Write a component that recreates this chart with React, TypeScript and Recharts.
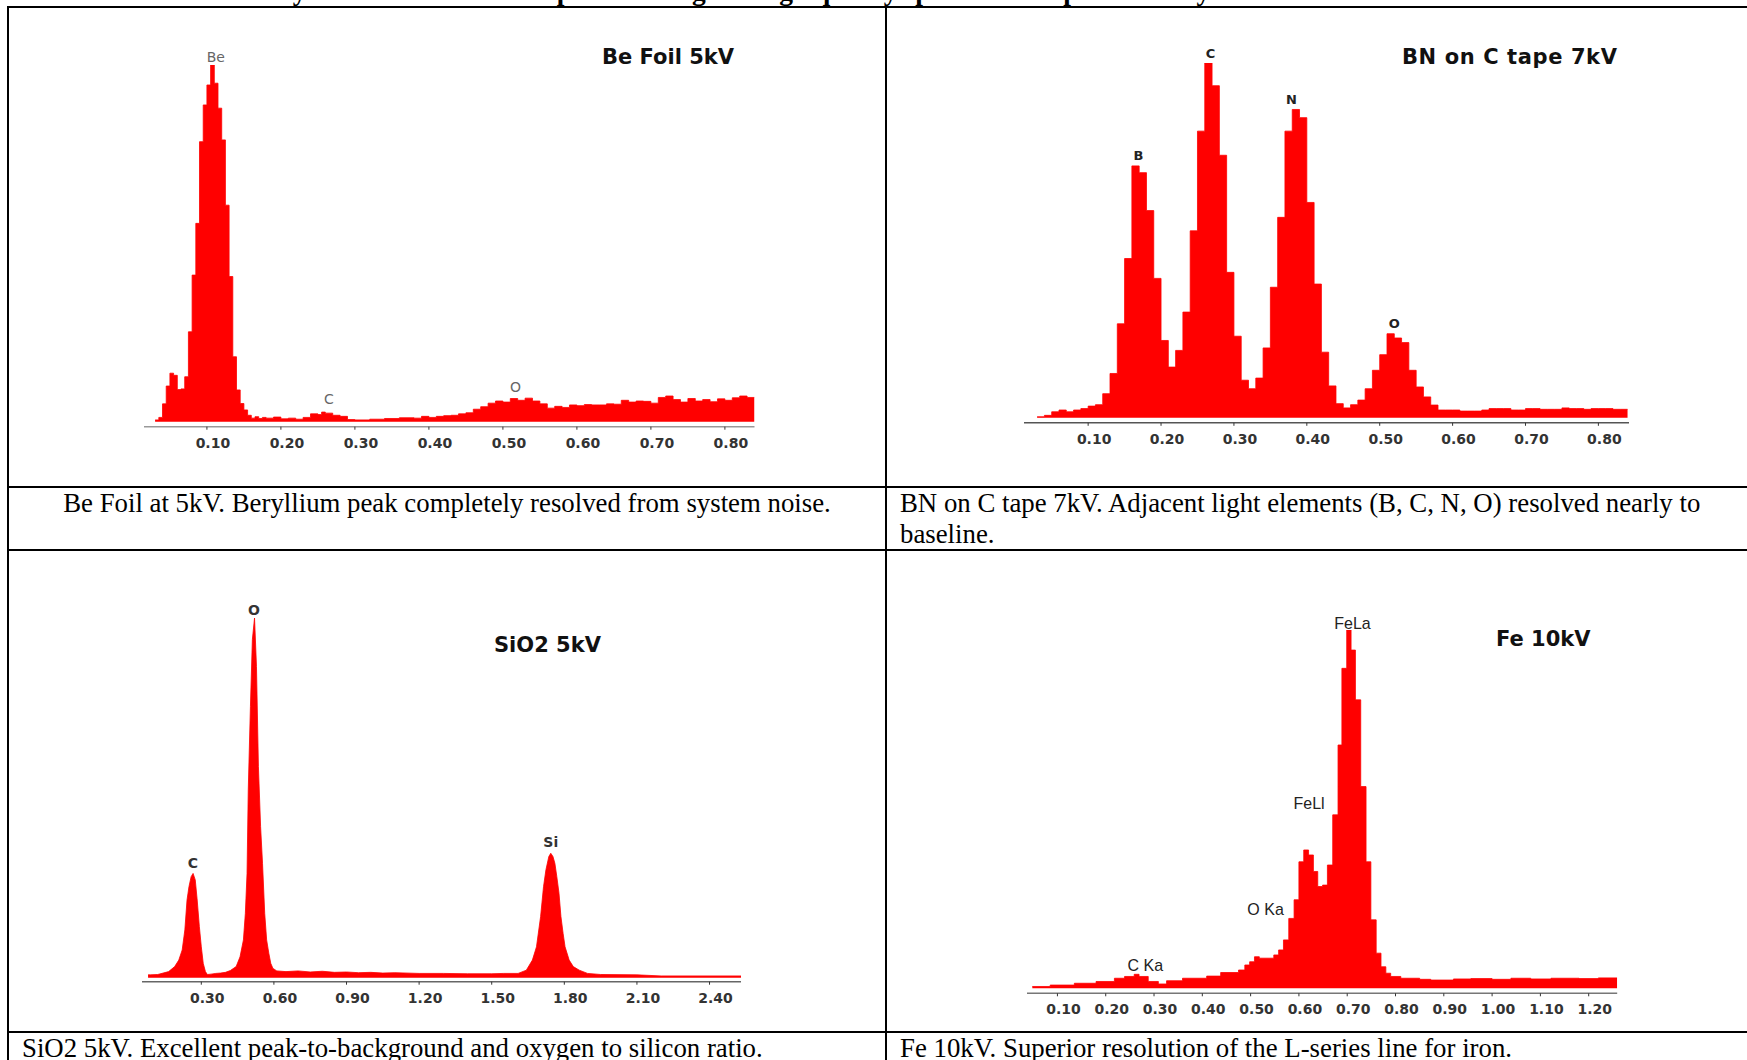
import React from 'react';
import { AreaChart, Area, XAxis, YAxis, ReferenceDot } from 'recharts';

// Be foil 5 kV — channel start energy (keV) and relative counts
const beEnergy = [
  0.03, 0.035, 0.04, 0.045, 0.05, 0.055, 0.06, 0.065, 0.07, 0.075, 0.08, 0.085, 0.09, 0.095, 0.1, 0.105,
  0.11, 0.115, 0.12, 0.125, 0.13, 0.135, 0.14, 0.145, 0.15, 0.155, 0.16, 0.165, 0.17, 0.175, 0.18,
  0.19, 0.2, 0.21, 0.22, 0.23, 0.24, 0.25, 0.255, 0.26, 0.27, 0.28, 0.29, 0.3, 0.32, 0.34, 0.36, 0.38,
  0.39, 0.4, 0.41, 0.42, 0.43, 0.44, 0.45, 0.46, 0.47, 0.48, 0.49, 0.5, 0.51, 0.52, 0.53, 0.54, 0.55,
  0.56, 0.57, 0.58, 0.59, 0.6, 0.61, 0.62, 0.63, 0.64, 0.65, 0.66, 0.67, 0.68, 0.69, 0.7, 0.71, 0.72,
  0.73, 0.74, 0.75, 0.76, 0.77, 0.78, 0.79, 0.8, 0.81, 0.82, 0.83, 0.84,
];
const beCounts = [
  5, 12, 50, 100, 136, 130, 90, 92, 126, 252, 411, 556, 785, 888, 944, 1000,
  949, 879, 790, 607, 407, 182, 89, 51, 33, 18, 10, 14, 9, 12, 10,
  13, 8, 10, 7, 12, 22, 20, 27, 24, 18, 15, 6, 5, 7, 9, 11, 10,
  15, 12, 15, 17, 18, 22, 25, 35, 42, 52, 58, 55, 65, 60, 66, 58, 50,
  38, 43, 40, 47, 45, 48, 47, 47, 50, 49, 60, 55, 58, 57, 52, 68, 72,
  62, 55, 65, 58, 62, 56, 64, 60, 67, 72, 68, 68,
];
const beTicks = [0.1, 0.2, 0.3, 0.4, 0.5, 0.6, 0.7, 0.8];
const beLabels = ['Be', 'C', 'O'];
const beLabelE = [0.112, 0.265, 0.517];
const beLabelY = [1021, 63, 96];

// BN on C tape 7 kV — 10 eV channels
const bnEnergy = [
  0.03, 0.04, 0.05, 0.06, 0.07, 0.08, 0.09, 0.1, 0.11, 0.12, 0.13, 0.14, 0.15, 0.16, 0.17, 0.18, 0.19,
  0.2, 0.21, 0.22, 0.23, 0.24, 0.25, 0.26, 0.27, 0.28, 0.29, 0.3, 0.31, 0.32, 0.33, 0.34, 0.35, 0.36,
  0.37, 0.38, 0.39, 0.4, 0.41, 0.42, 0.43, 0.44, 0.45, 0.46, 0.47, 0.48, 0.49, 0.5, 0.51, 0.52, 0.53,
  0.54, 0.55, 0.56, 0.57, 0.58, 0.59, 0.6, 0.61, 0.62, 0.63, 0.64, 0.65, 0.66, 0.67, 0.68, 0.69, 0.7,
  0.71, 0.72, 0.73, 0.74, 0.75, 0.76, 0.77, 0.78, 0.79, 0.8, 0.81, 0.82, 0.83, 0.84,
];
const bnCounts = [
  3, 7, 17, 22, 17, 22, 26, 33, 37, 68, 125, 265, 449, 710, 691, 584, 393,
  218, 143, 190, 298, 527, 808, 1000, 936, 740, 410, 230, 106, 82, 112, 197, 368, 565,
  808, 869, 846, 607, 377, 185, 90, 40, 28, 37, 50, 82, 134, 178, 237, 225, 212,
  134, 87, 59, 36, 22, 22, 22, 19, 19, 19, 22, 26, 26, 26, 22, 22, 26,
  26, 24, 24, 24, 28, 26, 26, 24, 26, 26, 26, 24, 24, 24,
];
const bnTicks = [0.1, 0.2, 0.3, 0.4, 0.5, 0.6, 0.7, 0.8];
const bnLabels = ['B', 'C', 'N', 'O'];
const bnLabelE = [0.169, 0.268, 0.379, 0.52];
const bnLabelY = [739, 1026, 897, 265];

// SiO2 5 kV — fine channels, read at points along the trace
const siEnergy = [
  0.08, 0.09, 0.12, 0.165, 0.19, 0.207, 0.221, 0.232, 0.241, 0.249, 0.258, 0.266, 0.275, 0.283, 0.292,
  0.3, 0.308, 0.317, 0.325, 0.34, 0.36, 0.38, 0.4, 0.42, 0.444, 0.46, 0.474, 0.482, 0.489, 0.494,
  0.503, 0.511, 0.52, 0.528, 0.536, 0.545, 0.553, 0.562, 0.57, 0.579, 0.587, 0.596, 0.612, 0.65, 0.7,
  0.75, 0.8, 0.85, 0.9, 0.95, 1.0, 1.05, 1.1, 1.2, 1.3, 1.4, 1.5, 1.55, 1.609, 1.643,
  1.668, 1.685, 1.702, 1.714, 1.724, 1.736, 1.744, 1.753, 1.761, 1.769, 1.778, 1.786, 1.795, 1.803, 1.82,
  1.837, 1.862, 1.896, 1.95, 2.1, 2.2, 2.53,
];
const siCounts = [
  8, 8, 9, 17, 31, 49, 77, 133, 216, 253, 281, 290, 272, 216, 142,
  86, 40, 17, 9, 10, 12, 13, 15, 20, 31, 58, 105, 179, 290, 522,
  754, 940, 1000, 865, 587, 420, 318, 179, 105, 68, 40, 26, 19, 17, 19,
  16, 18, 15, 16, 14, 15, 13, 14, 12, 12, 11, 11, 12, 12, 21,
  49, 86, 170, 253, 300, 337, 346, 337, 318, 281, 235, 170, 123, 86, 49,
  31, 21, 12, 9, 8, 5, 5,
];
const siTicks = [0.3, 0.6, 0.9, 1.2, 1.5, 1.8, 2.1, 2.4];
const siLabels = ['C', 'O', 'Si'];
const siLabelE = [0.265, 0.518, 1.744];
const siLabelY = [319, 1022, 378];

// Fe 10 kV — channel start energy (keV) and relative counts
const feEnergy = [
  0.048, 0.085, 0.135, 0.18, 0.218, 0.239, 0.259, 0.269, 0.288, 0.309, 0.326, 0.359, 0.409, 0.438,
  0.475, 0.488, 0.498, 0.508, 0.518, 0.548, 0.558, 0.568, 0.579, 0.59, 0.6, 0.61, 0.62, 0.63, 0.639,
  0.649, 0.659, 0.67, 0.681, 0.689, 0.699, 0.708, 0.717, 0.728, 0.739, 0.749, 0.76, 0.77, 0.78, 0.79,
  0.811, 0.85, 0.873, 0.92, 0.956, 1.0, 1.039, 1.08, 1.122, 1.18, 1.22, 1.259,
];
const feCounts = [
  5, 9, 14, 19, 28, 33, 39, 33, 19, 12, 21, 28, 34, 44,
  51, 65, 74, 88, 84, 93, 107, 135, 195, 247, 353, 386, 372, 326, 284,
  288, 344, 484, 679, 893, 1000, 944, 805, 563, 353, 191, 98, 60, 42, 33,
  28, 25, 23, 26, 27, 25, 28, 26, 28, 27, 29, 29,
];
const feTicks = [0.1, 0.2, 0.3, 0.4, 0.5, 0.6, 0.7, 0.8, 0.9, 1.0, 1.1, 1.2];
const feLabels = ['C Ka', 'O Ka', 'FeLl', 'FeLa'];
const feLabelE = [0.282, 0.531, 0.621, 0.711];
const feLabelY = [65, 221, 517, 1020];

const captions = [
  'Be Foil at 5kV. Beryllium peak completely resolved from system noise.',
  'BN on C tape 7kV. Adjacent light elements (B, C, N, O) resolved nearly to',
  'baseline.',
  'SiO2 5kV. Excellent peak-to-background and oxygen to silicon ratio.',
  'Fe 10kV. Superior resolution of the L-series line for iron.',
];

type Row = { e: number; c: number };
const toRows = (e: number[], c: number[]): Row[] => e.map((v, i) => ({ e: v, c: c[i] }));

const MARGIN = { top: 40, right: 24, bottom: 0, left: 24 };
const AXIS_H = 36;

type SpecProps = {
  data: Row[];
  domain: [number, number];
  yMin: number;
  ticks: number[];
  labels: string[];
  labelE: number[];
  labelY: number[];
  labelFont: Record<string, any>;
  curve: 'stepAfter' | 'linear';
  left: number;
  top: number;
  width: number;
  height: number;
  axisColor: string;
};

function Spectrum(p: SpecProps) {
  return (
    <div style={{ position: 'absolute', left: p.left - MARGIN.left, top: p.top - MARGIN.top }}>
      <AreaChart
        width={p.width + MARGIN.left + MARGIN.right}
        height={p.height + MARGIN.top + AXIS_H}
        data={p.data}
        margin={MARGIN}
      >
        <XAxis
          type="number"
          dataKey="e"
          domain={p.domain}
          allowDataOverflow
          ticks={p.ticks}
          interval={0}
          tickFormatter={(v: number) => v.toFixed(2)}
          height={AXIS_H}
          axisLine={{ stroke: p.axisColor, strokeWidth: 1.5 }}
          tickLine={{ stroke: '#333' }}
          tickSize={3}
          tickMargin={8}
          tick={{ fill: '#333', fontSize: 14, fontWeight: 'bold', fontFamily: 'DejaVu Sans', dx: 6 }}
        />
        <YAxis hide type="number" domain={[p.yMin, 1000]} allowDataOverflow />
        <Area
          type={p.curve}
          dataKey="c"
          stroke="#ff0000"
          strokeWidth={0.8}
          fill="#ff0000"
          fillOpacity={1}
          isAnimationActive={false}
        />
        {p.labels.map((t, i) => (
          <ReferenceDot
            key={t + i}
            x={p.labelE[i]}
            y={p.labelY[i]}
            r={0}
            ifOverflow="visible"
            label={{ value: t, position: 'center', ...p.labelFont }}
          />
        ))}
      </AreaChart>
    </div>
  );
}

const titleStyle: React.CSSProperties = {
  position: 'absolute',
  fontFamily: 'DejaVu Sans',
  fontWeight: 'bold',
  fontSize: 21,
  lineHeight: '21px',
  color: '#111',
  whiteSpace: 'nowrap',
};

const capStyle: React.CSSProperties = {
  position: 'absolute',
  fontFamily: '"Liberation Serif", "Times New Roman", serif',
  fontSize: 26.8,
  lineHeight: '31px',
  color: '#000',
  whiteSpace: 'nowrap',
};

const line = (left: number, top: number, width: number, height: number) => (
  <div style={{ position: 'absolute', left, top, width, height, background: '#000' }} />
);

export default function App() {
  return (
    <div style={{ position: 'absolute', left: 0, top: 0, width: 1747, height: 1060, background: '#fff', overflow: 'hidden' }}>
      <div
        style={{
          position: 'absolute',
          left: 56,
          top: -23,
          fontFamily: '"Liberation Serif", "Times New Roman", serif',
          fontWeight: 'bold',
          fontSize: 27.5,
          lineHeight: '27px',
          whiteSpace: 'nowrap',
        }}
      >
        SDDs available today. Here are some examples showing the high quality spectral data produced by the SiriusSD detectors.
      </div>

      {line(7, 6, 1740, 2)}
      {line(7, 6, 2, 1054)}
      {line(885, 6, 2, 1054)}
      {line(7, 486, 1740, 2)}
      {line(7, 549, 1740, 2)}
      {line(7, 1031, 1740, 2)}

      <Spectrum
        data={toRows(beEnergy, beCounts)}
        domain={[0.015, 0.84]}
        yMin={-14}
        ticks={beTicks}
        labels={beLabels}
        labelE={beLabelE}
        labelY={beLabelY}
        labelFont={{ fontFamily: 'DejaVu Sans', fontSize: 14, fill: '#666' }}
        curve="stepAfter"
        left={144}
        top={65}
        width={610.5}
        height={361.7}
        axisColor="#999"
      />
      <Spectrum
        data={toRows(bnEnergy, bnCounts)}
        domain={[0.012, 0.842]}
        yMin={-14}
        ticks={bnTicks}
        labels={bnLabels}
        labelE={bnLabelE}
        labelY={bnLabelY}
        labelFont={{ fontFamily: 'DejaVu Sans', fontSize: 13, fontWeight: 'bold', fill: '#222' }}
        curve="stepAfter"
        left={1024.3}
        top={63.2}
        width={605}
        height={359.8}
        axisColor="#555"
      />
      <Spectrum
        data={toRows(siEnergy, siCounts)}
        domain={[0.055, 2.53]}
        yMin={-11}
        ticks={siTicks}
        labels={siLabels}
        labelE={siLabelE}
        labelY={siLabelY}
        labelFont={{ fontFamily: 'DejaVu Sans', fontSize: 14, fontWeight: 'bold', fill: '#333' }}
        curve="linear"
        left={142.2}
        top={618}
        width={599}
        height={363.7}
        axisColor="#666"
      />
      <Spectrum
        data={toRows(feEnergy, feCounts)}
        domain={[0.037, 1.259]}
        yMin={-14}
        ticks={feTicks}
        labels={feLabels}
        labelE={feLabelE}
        labelY={feLabelY}
        labelFont={{ fontFamily: 'Liberation Sans', fontSize: 16, fill: '#222' }}
        curve="stepAfter"
        left={1026.9}
        top={630}
        width={590.2}
        height={363.3}
        axisColor="#777"
      />

      <div style={{ ...titleStyle, left: 602, top: 46.7 }}>Be Foil 5kV</div>
      <div style={{ ...titleStyle, left: 1402, top: 46.7, letterSpacing: 0.6 }}>BN on C tape 7kV</div>
      <div style={{ ...titleStyle, left: 494, top: 635 }}>SiO2 5kV</div>
      <div style={{ ...titleStyle, left: 1496, top: 628.5 }}>Fe 10kV</div>

      <div style={{ ...capStyle, left: 9, width: 876, top: 488, textAlign: 'center' }}>{captions[0]}</div>
      <div style={{ ...capStyle, left: 900, top: 488 }}>
        {captions[1]}
        <br />
        {captions[2]}
      </div>
      <div style={{ ...capStyle, left: 22, top: 1033 }}>{captions[3]}</div>
      <div style={{ ...capStyle, left: 900, top: 1033 }}>{captions[4]}</div>
    </div>
  );
}
